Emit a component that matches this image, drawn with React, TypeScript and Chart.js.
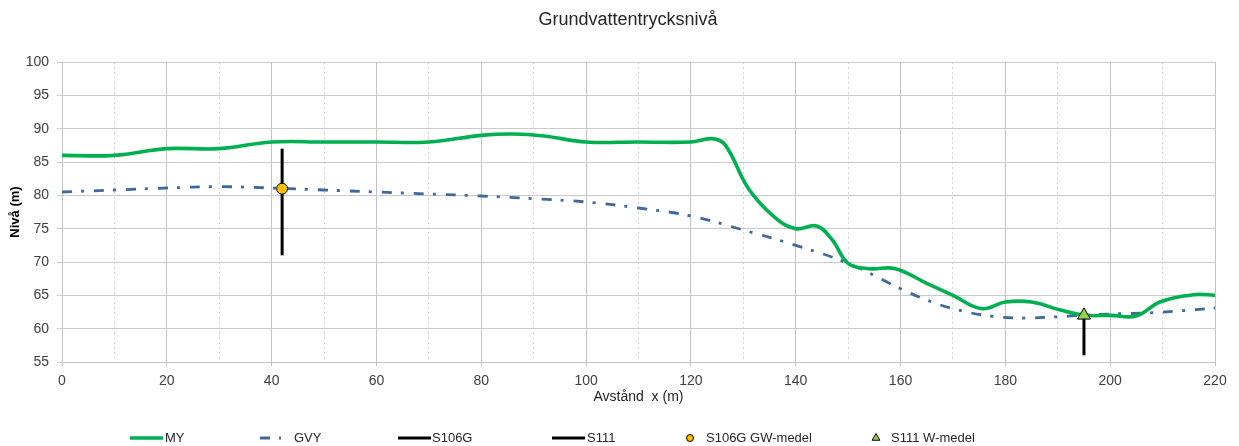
import React, { useEffect, useRef } from 'react';
import { Chart, registerables } from 'chart.js';

Chart.register(...registerables);

// ---- Texts ----
const CHART_TITLE = 'Grundvattentrycksnivå';
const X_TITLE = 'Avstånd  x (m)';
const Y_TITLE = 'Nivå (m)';

// ---- Axis ranges / ticks ----
const X_MIN = 0;
const X_MAX = 220;
const X_STEP = 10;
const X_LABEL_EVERY = 20;
const Y_MIN = 55;
const Y_MAX = 100;
const Y_STEP = 5;

// ---- Series ----
const seriesNames = ['MY', 'GVY', 'S106G', 'S111', 'S106G GW-medel', 'S111 W-medel'];

const myX = [0, 10, 20, 30, 40, 50, 60, 70, 80, 86, 92, 100, 110, 120, 124, 126.5, 131, 136, 140, 144, 147, 150, 154, 159, 165, 170, 175.5, 180, 185, 190.5, 195.5, 200, 205, 209.5, 216, 220];
const myY = [86, 86, 87, 87, 88, 88, 88, 88, 89, 89.2, 88.9, 88, 88, 88, 88.5, 87.6, 81, 76.7, 75, 75.4, 73.3, 69.8, 69, 69, 66.8, 65, 63, 64, 64, 62.8, 62, 62, 61.9, 64, 65.1, 65];

const gvyX = [0, 10, 20, 30, 40, 50, 60, 70, 80, 90, 100, 110, 120, 130, 140, 150, 160, 165, 170, 177, 183, 189, 195, 200, 207, 213, 220];
const gvyY = [80.5, 80.8, 81.1, 81.3, 81.1, 80.8, 80.5, 80.2, 79.9, 79.5, 79.0, 78.1, 76.9, 74.8, 72.5, 69.8, 66, 64.3, 63, 61.9, 61.6, 61.75, 62, 62.2, 62.35, 62.65, 63.1];

const s106gX = [42, 42];
const s106gY = [71, 87];
const s111X = [195, 195];
const s111Y = [56, 62];

const s106gMeanX = [42];
const s106gMeanY = [81];
const s111MeanX = [195];
const s111MeanY = [62];

// ---- Layout / style constants ----
const FONT = '"Liberation Sans", Arial, Helvetica, sans-serif';
const W = 1239;
const H = 446;
const TITLE_POS = { x: 628, y: 20 };
const LEGEND_Y = 438;
const LEGEND_SLOTS = [
  { from: 130, to: 163, text: 165 },
  { from: 260, to: 281, text: 294 },
  { from: 398, to: 431, text: 432 },
  { from: 552, to: 585, text: 587 },
  { from: 690, to: 690, text: 706 },
  { from: 876, to: 876, text: 891 },
];

const pts = (xs: number[], ys: number[]) => xs.map((x, i) => ({ x, y: ys[i] }));

function drawMarker(ctx: CanvasRenderingContext2D, style: string, x: number, y: number, r: number, fill: string, stroke: string) {
  ctx.save();
  ctx.setLineDash([]);
  ctx.fillStyle = fill;
  ctx.strokeStyle = stroke;
  ctx.lineWidth = 1;
  ctx.beginPath();
  if (style === 'triangle') {
    ctx.moveTo(x, y - r);
    ctx.lineTo(x + r * Math.sin(Math.PI * 2 / 3), y - r * Math.cos(Math.PI * 2 / 3));
    ctx.lineTo(x + r * Math.sin(Math.PI * 4 / 3), y - r * Math.cos(Math.PI * 4 / 3));
    ctx.closePath();
  } else {
    ctx.arc(x, y, r, 0, Math.PI * 2);
  }
  ctx.fill();
  ctx.stroke();
  ctx.restore();
}

const overlayPlugin = {
  id: 'overlayTexts',
  afterDraw(chart: any) {
    const ctx: CanvasRenderingContext2D = chart.ctx;
    ctx.save();
    ctx.font = `18px ${FONT}`;
    ctx.fillStyle = '#262626';
    ctx.textAlign = 'center';
    ctx.textBaseline = 'middle';
    ctx.fillText(CHART_TITLE, TITLE_POS.x, TITLE_POS.y);

    ctx.font = `13px ${FONT}`;
    ctx.textAlign = 'left';
    chart.data.datasets.forEach((ds: any, i: number) => {
      const slot = LEGEND_SLOTS[i];
      if (!slot) return;
      if (ds.showLine === false) {
        drawMarker(ctx, ds.pointStyle, slot.from, LEGEND_Y, ds.legendRadius, ds.backgroundColor, ds.borderColor);
      } else {
        ctx.save();
        ctx.strokeStyle = ds.borderColor;
        ctx.lineWidth = ds.borderWidth;
        ctx.setLineDash(ds.borderDash || []);
        ctx.beginPath();
        ctx.moveTo(slot.from, LEGEND_Y);
        ctx.lineTo(slot.to, LEGEND_Y);
        ctx.stroke();
        ctx.restore();
      }
      ctx.fillStyle = '#262626';
      ctx.fillText(ds.label, slot.text, LEGEND_Y);
    });
    ctx.restore();
  },
};

export default function App() {
  const canvasRef = useRef<HTMLCanvasElement | null>(null);

  useEffect(() => {
    document.body.style.margin = '0';
    document.body.style.overflow = 'hidden';
    const canvas = canvasRef.current;
    if (!canvas) return;

    const chart = new Chart(canvas, {
      type: 'line',
      data: {
        datasets: [
          {
            label: seriesNames[0],
            data: pts(myX, myY),
            borderColor: '#00b050',
            borderWidth: 3.6,
            pointRadius: 0,
            tension: 0.4,
            fill: false,
            order: 2,
          },
          {
            label: seriesNames[1],
            data: pts(gvyX, gvyY),
            borderColor: '#41689c',
            borderWidth: 2.8,
            borderDash: [10, 9, 3, 10],
            pointRadius: 0,
            tension: 0.4,
            fill: false,
            order: 3,
          },
          {
            label: seriesNames[2],
            data: pts(s106gX, s106gY),
            borderColor: '#000000',
            borderWidth: 3,
            pointRadius: 0,
            fill: false,
            order: 1,
          },
          {
            label: seriesNames[3],
            data: pts(s111X, s111Y),
            borderColor: '#000000',
            borderWidth: 3,
            pointRadius: 0,
            fill: false,
            order: 1,
          },
          {
            label: seriesNames[4],
            data: pts(s106gMeanX, s106gMeanY),
            showLine: false,
            pointStyle: 'circle',
            pointRadius: 5.5,
            backgroundColor: '#ffc000',
            borderColor: '#000000',
            borderWidth: 1,
            legendRadius: 3.5,
            order: 0,
          } as any,
          {
            label: seriesNames[5],
            data: pts(s111MeanX, s111MeanY),
            showLine: false,
            pointStyle: 'triangle',
            pointRadius: 7.5,
            backgroundColor: '#92d050',
            borderColor: '#000000',
            borderWidth: 1,
            legendRadius: 4.5,
            order: 0,
          } as any,
        ],
      },
      options: {
        animation: false,
        responsive: false,
        events: [],
        layout: { padding: { top: 62, right: 24, bottom: 36, left: 0 } },
        plugins: {
          legend: { display: false },
          title: { display: false },
          tooltip: { enabled: false },
        },
        scales: {
          x: {
            type: 'linear',
            min: X_MIN,
            max: X_MAX,
            afterFit: (scale: any) => { scale.height = 48; },
            ticks: {
              stepSize: X_STEP,
              autoSkip: false,
              maxRotation: 0,
              padding: 7,
              color: '#404040',
              font: { family: FONT, size: 14 },
              callback: (v: any) => (Number(v) % X_LABEL_EVERY === 0 ? String(v) : ''),
            },
            grid: {
              color: (c: any) => (c.tick && c.tick.value % X_LABEL_EVERY !== 0 ? '#d4d4d4' : '#c2c2c2'),
              tickColor: (c: any) => (c.tick && c.tick.value % X_LABEL_EVERY !== 0 ? 'rgba(0,0,0,0)' : '#c2c2c2'),
              tickLength: 4,
              lineWidth: 1,
            },
            border: {
              color: '#c2c2c2',
              dash: (c: any) => (c.tick && c.tick.value % X_LABEL_EVERY !== 0 ? [2, 3] : []),
            },
            title: {
              display: true,
              text: X_TITLE,
              color: '#262626',
              font: { family: FONT, size: 14 },
              padding: { top: 0, bottom: 4 },
            },
          },
          y: {
            type: 'linear',
            min: Y_MIN,
            max: Y_MAX,
            afterFit: (scale: any) => { scale.width = 62; },
            ticks: {
              stepSize: Y_STEP,
              padding: 8,
              color: '#404040',
              font: { family: FONT, size: 14 },
            },
            grid: {
              color: '#cacaca',
              tickColor: '#cacaca',
              tickLength: 5,
              lineWidth: 1,
            },
            border: { color: '#c2c2c2' },
            title: {
              display: true,
              text: Y_TITLE,
              color: '#000000',
              font: { family: FONT, size: 13, weight: 'bold' },
              padding: { top: 8, bottom: 0 },
            },
          },
        },
      } as any,
      plugins: [overlayPlugin],
    });

    return () => chart.destroy();
  }, []);

  return (
    <div style={{ width: W, height: H }}>
      <canvas ref={canvasRef} width={W} height={H} style={{ display: 'block' }} />
    </div>
  );
}
